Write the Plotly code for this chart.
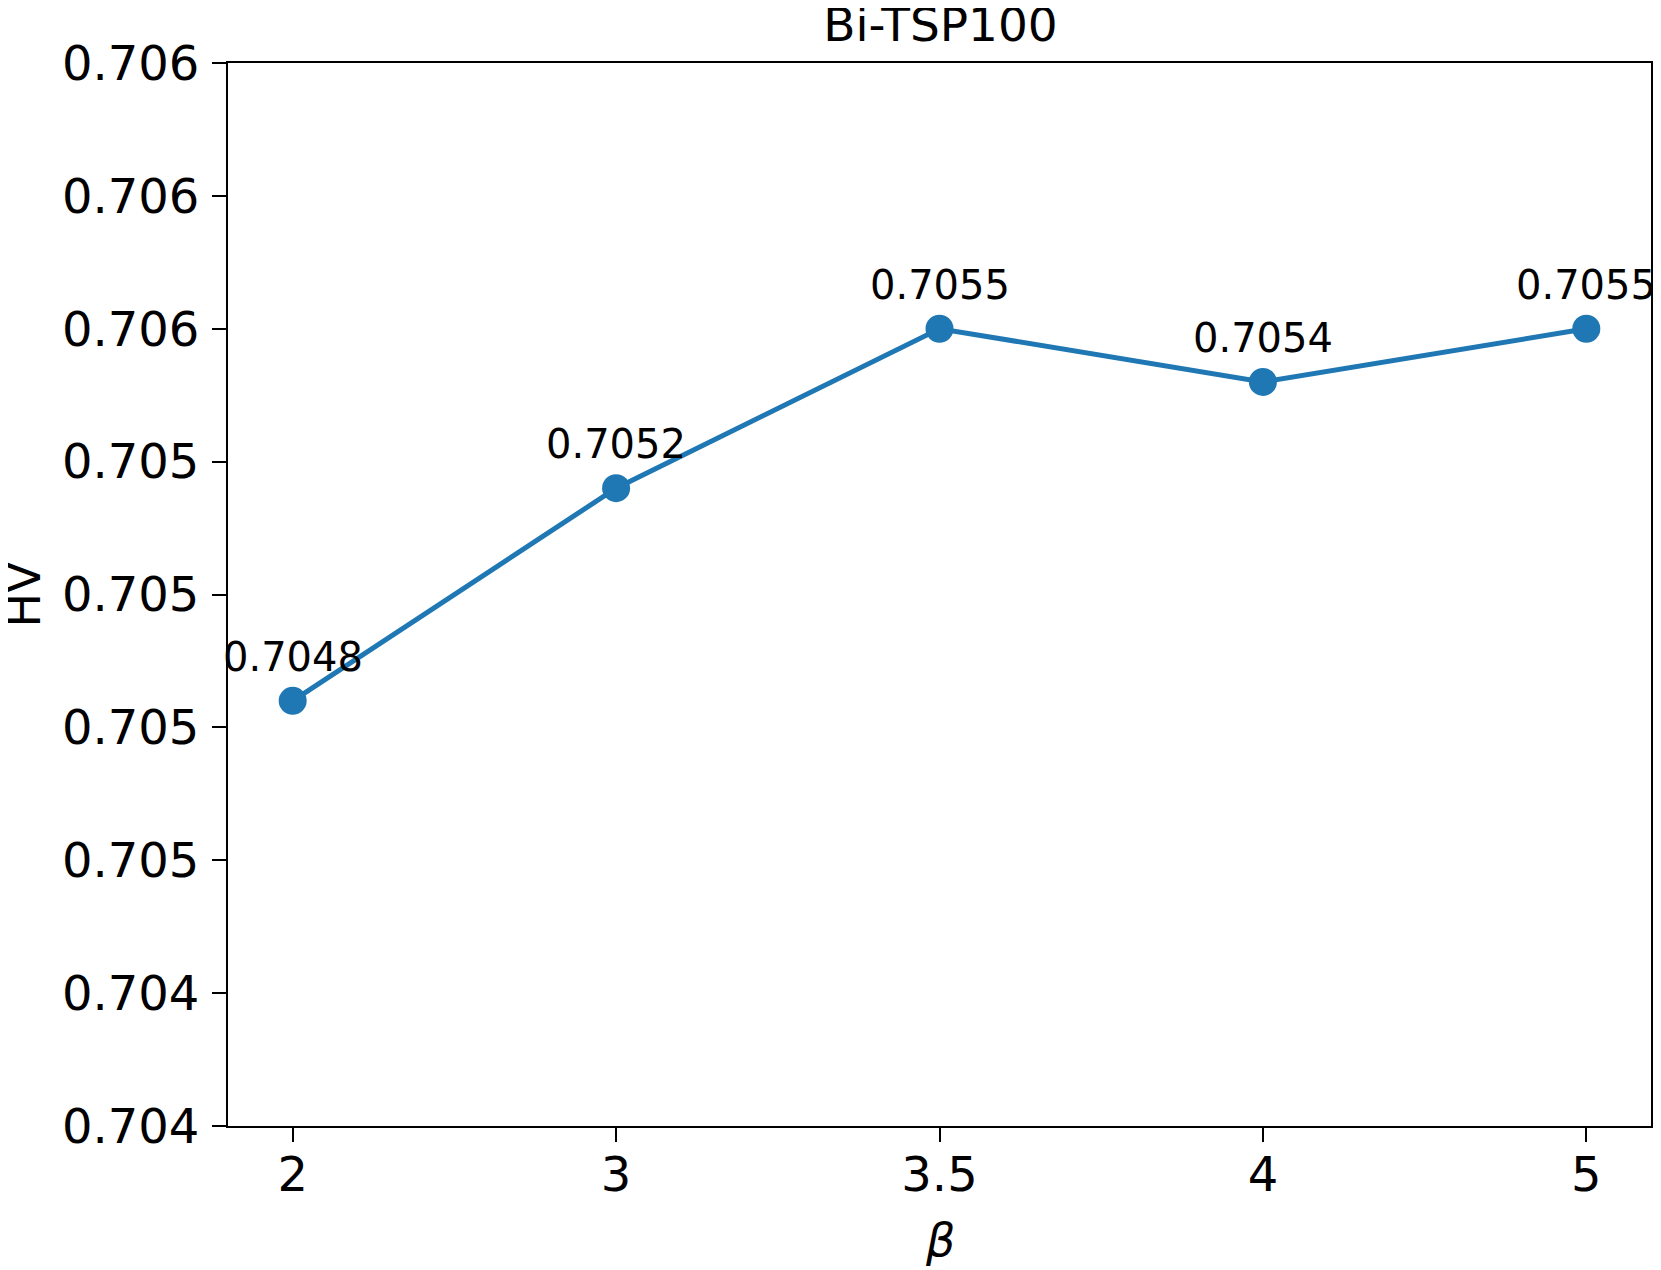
import plotly.graph_objects as go

categories = ["2", "3", "3.5", "4", "5"]
hv_values = [0.7048, 0.7052, 0.7055, 0.7054, 0.7055]
value_labels = ["0.7048", "0.7052", "0.7055", "0.7054", "0.7055"]
y_tickvals = [0.7040, 0.70425, 0.7045, 0.70475, 0.7050, 0.70525, 0.7055, 0.70575, 0.7060]
y_ticktext = ["0.704", "0.704", "0.705", "0.705", "0.705", "0.705", "0.706", "0.706", "0.706"]

FONT = "DejaVu Sans"
BLUE = "#1f77b4"

# page body has an 8px default margin; size the figure to fit the window
W, H = 1653, 1262
L, R, T, B = 220, 8, 55, 144

xidx = list(range(len(categories)))

fig = go.Figure()
fig.add_trace(go.Scatter(
    x=xidx, y=hv_values, mode="lines+markers",
    line=dict(color=BLUE, width=5),
    marker=dict(color=BLUE, size=28),
    cliponaxis=False, showlegend=False,
))

for xi, v, t in zip(xidx, hv_values, value_labels):
    fig.add_annotation(x=xi, y=v, text=t, showarrow=False, xanchor="center",
                       yanchor="middle", yshift=44,
                       font=dict(family=FONT, size=40, color="black"))

fig.add_annotation(xref="paper", yref="paper", x=0, y=0.5, xshift=-205,
                   text="HV", textangle=-90, showarrow=False,
                   xanchor="center", yanchor="middle",
                   font=dict(family=FONT, size=46, color="black"))
fig.add_annotation(xref="paper", yref="paper", x=0.5, y=0, yshift=-114,
                   text="<i>β</i>", showarrow=False,
                   xanchor="center", yanchor="middle",
                   font=dict(family=FONT, size=46, color="black"))

fig.update_layout(
    width=W, height=H,
    margin=dict(l=L, r=R, t=T, b=B),
    paper_bgcolor="white", plot_bgcolor="white",
    font=dict(family=FONT, color="black"),
    title=dict(text="Bi-TSP100", x=0.5 * (L + W - R) / W, xanchor="center",
               y=1 - 17 / H, yanchor="middle",
               font=dict(family=FONT, size=47, color="black")),
)

fig.update_xaxes(
    range=[-0.2, 4.2], tickmode="array", tickvals=xidx, ticktext=categories,
    showgrid=False, zeroline=False,
    showline=True, linecolor="black", linewidth=2, mirror=True,
    ticks="outside", ticklen=14, tickwidth=2, tickcolor="black",
    ticklabelstandoff=-9,
    tickfont=dict(family=FONT, size=48, color="black"),
)
fig.update_yaxes(
    range=[0.7040, 0.7060], tickmode="array", tickvals=y_tickvals, ticktext=y_ticktext,
    showgrid=False, zeroline=False,
    showline=True, linecolor="black", linewidth=2, mirror=True,
    ticks="outside", ticklen=14, tickwidth=2, tickcolor="black",
    ticklabelstandoff=3,
    tickfont=dict(family=FONT, size=48, color="black"),
)

fig.write_html("out.html")
